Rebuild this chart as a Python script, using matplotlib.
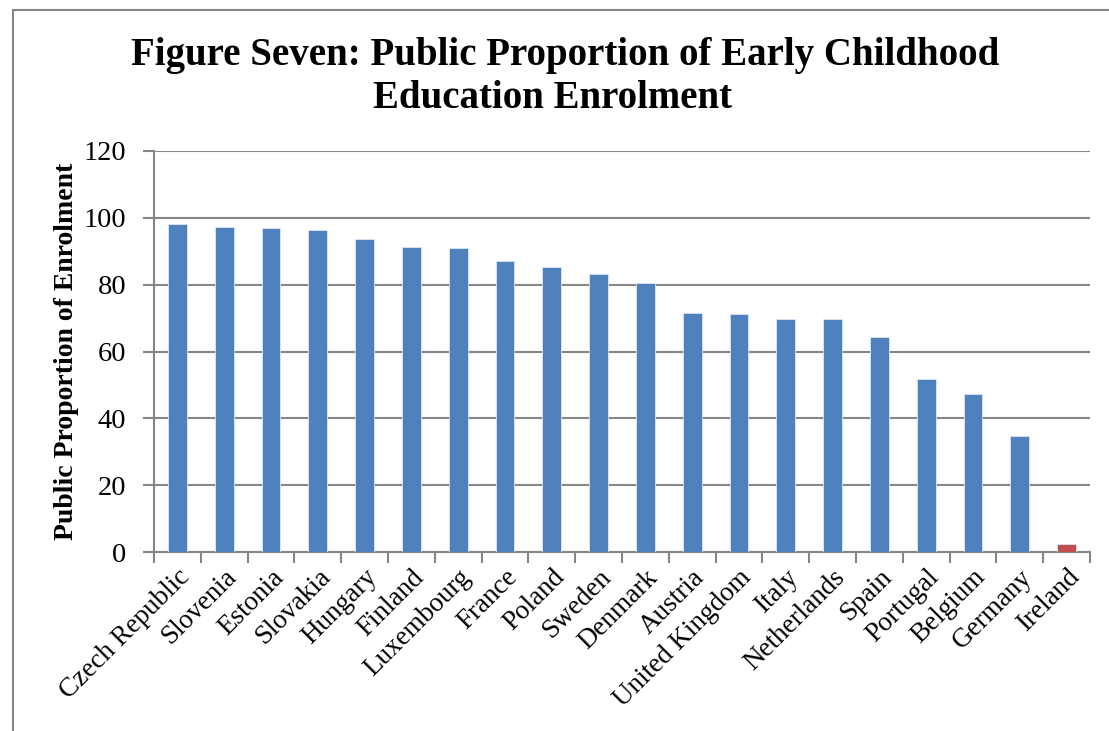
import matplotlib
matplotlib.use('Agg')
from matplotlib import pyplot as plt
from matplotlib.patches import Rectangle
import numpy as np

# 国家及公立学前教育入学比例
countries = ['Czech Republic', 'Slovenia', 'Estonia', 'Slovakia', 'Hungary',
             'Finland', 'Luxembourg', 'France', 'Poland', 'Sweden', 'Denmark',
             'Austria', 'United Kingdom', 'Italy', 'Netherlands', 'Spain',
             'Portugal', 'Belgium', 'Germany', 'Ireland']
public_share = [98.0, 97.3, 97.0, 96.3, 93.5, 91.2, 91.0, 87.0, 85.2, 83.2,
                80.4, 71.4, 71.1, 69.8, 69.8, 64.3, 51.9, 47.2, 34.8, 2.4]
y_ticks = [0, 20, 40, 60, 80, 100, 120]

BLUE = '#4F81BD'
RED = '#C0504D'
GRID = '#868686'


def main():
    plt.rcParams['font.family'] = ['Liberation Serif', 'DejaVu Serif']

    fig = plt.figure(figsize=(11.09, 7.31), dpi=100)
    ax = fig.add_axes([0.1389, 0.2445, 0.844, 0.5493])

    # 外边框
    fig.patches.append(Rectangle((13 / 1109, -0.1), 1.2, 1.1 - 10 / 731,
                                 transform=fig.transFigure, fill=False,
                                 edgecolor=GRID, linewidth=1.5, zorder=0))

    x = np.arange(len(countries))
    colors = [RED if c == 'Ireland' else BLUE for c in countries]
    ax.bar(x, public_share, width=0.4, color=colors, edgecolor='#DCE6F2',
           linewidth=0.6, zorder=3)

    ax.set_xlim(-0.5, len(countries) - 0.5)
    ax.set_ylim(0, 120)
    ax.set_yticks(y_ticks)
    ax.set_yticklabels([str(v) for v in y_ticks], fontsize=20.5)
    ax.yaxis.grid(True, color=GRID, linewidth=1.5, zorder=0)

    # x轴刻度在类别分界处
    ax.set_xticks(np.arange(len(countries) + 1) - 0.5)
    ax.set_xticklabels([])
    ax.set_xticks(x, minor=True)
    ax.set_xticklabels(countries, minor=True, rotation=45, ha='right',
                       rotation_mode='anchor', fontsize=19.5)
    ax.tick_params(axis='x', which='minor', length=0, pad=9)
    ax.tick_params(axis='x', which='major', length=8, width=1.5, color=GRID)
    ax.tick_params(axis='y', length=8, width=1.5, color=GRID, pad=12)

    for side in ['top', 'right']:
        ax.spines[side].set_visible(False)
    for side in ['left', 'bottom']:
        ax.spines[side].set_color(GRID)
        ax.spines[side].set_linewidth(1.5)

    ax.set_ylabel('Public Proportion of Enrolment', fontsize=20,
                  fontweight='bold', labelpad=3)

    # 标题两行
    fig.text(0.51, 1 - 65 / 731, 'Figure Seven: Public Proportion of Early Childhood',
             ha='center', va='baseline', fontsize=28, fontweight='bold')
    fig.text(0.498, 1 - 108 / 731, 'Education Enrolment',
             ha='center', va='baseline', fontsize=28, fontweight='bold')

    fig.savefig('out.png', dpi=100)


if __name__ == '__main__':
    main()
